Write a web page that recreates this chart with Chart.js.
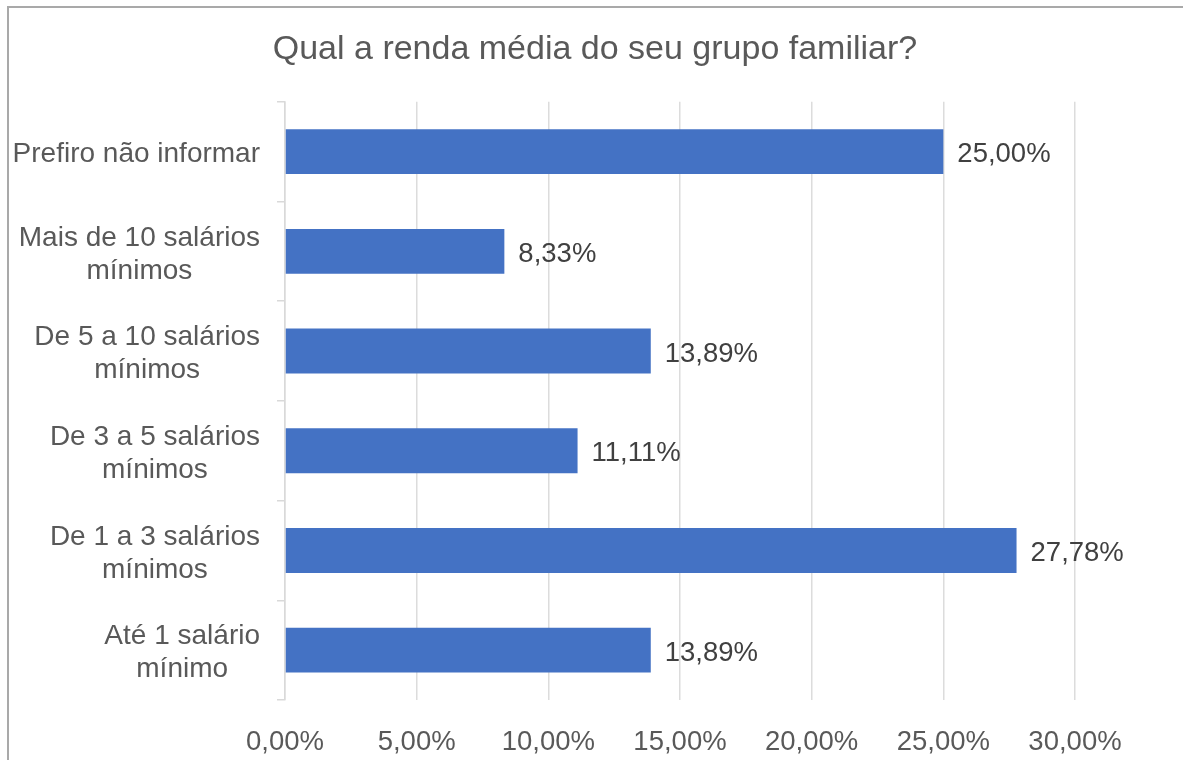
<!DOCTYPE html>
<html>
<head>
<meta charset="utf-8">
<script src="https://cdn.jsdelivr.net/npm/chart.js@4.4.1/dist/chart.umd.min.js"></script>
<style>
  html, body { margin: 0; padding: 0; background: #fff; }
  #wrap { position: relative; width: 1183px; height: 760px; }
  #frame {
    position: absolute; left: 7px; top: 6px; right: 0; bottom: 0;
    border-left: 2px solid #a9a9a9; border-top: 2px solid #a9a9a9;
  }
  #chart { position: absolute; left: 0; top: 0; }
</style>
</head>
<body>
<div id="wrap">
  <div id="frame"></div>
  <canvas id="chart" width="1183" height="760"></canvas>
</div>
<script>
  // data
  const titleText = 'Qual a renda média do seu grupo familiar?';
  const categories = [
    ['Prefiro não informar'],
    ['Mais de 10 salários', 'mínimos'],
    ['De 5 a 10 salários', 'mínimos'],
    ['De 3 a 5 salários', 'mínimos'],
    ['De 1 a 3 salários', 'mínimos'],
    ['Até 1 salário', 'mínimo']
  ];
  const values = [25.00, 8.33, 13.89, 11.11, 27.78, 13.89];
  const xTickLabels = ['0,00%', '5,00%', '10,00%', '15,00%', '20,00%', '25,00%', '30,00%'];

  const FONT = '"Liberation Sans", Arial, sans-serif';

  function pct(v) {
    return v.toFixed(2).replace('.', ',') + '%';
  }

  // value labels at the end of each bar
  const barLabels = {
    id: 'barLabels',
    afterDatasetsDraw(chart) {
      const ctx = chart.ctx;
      const meta = chart.getDatasetMeta(0);
      ctx.save();
      ctx.font = '27.5px ' + FONT;
      ctx.fillStyle = '#404040';
      ctx.textAlign = 'left';
      ctx.textBaseline = 'middle';
      meta.data.forEach(function (bar, i) {
        ctx.fillText(pct(values[i]), bar.x + 14, bar.y + 3);
      });
      ctx.restore();
    }
  };

  // category labels: block right-aligned, lines centred inside the block
  const catLabels = {
    id: 'catLabels',
    afterDraw(chart) {
      const ctx = chart.ctx;
      const y = chart.scales.y;
      const right = chart.scales.x.left - 25;
      ctx.save();
      ctx.font = '28px ' + FONT;
      ctx.fillStyle = '#595959';
      ctx.textAlign = 'center';
      ctx.textBaseline = 'middle';
      categories.forEach(function (lines, i) {
        const cy = y.getPixelForValue(i) + 3;
        let w = 0;
        lines.forEach(function (l) { w = Math.max(w, ctx.measureText(l).width); });
        const cx = right - w / 2;
        lines.forEach(function (l, j) {
          ctx.fillText(l, cx, cy + (j - (lines.length - 1) / 2) * 33);
        });
      });
      ctx.restore();
    }
  };

  const ctx = document.getElementById('chart').getContext('2d');
  const chart = new Chart(ctx, {
    type: 'bar',
    data: {
      labels: categories,
      datasets: [{
        data: values,
        backgroundColor: '#4472C4',
        borderWidth: 0,
        barPercentage: 0.45,
        categoryPercentage: 1
      }]
    },
    options: {
      indexAxis: 'y',
      responsive: false,
      animation: false,
      layout: {
        padding: { left: 115, right: 108, top: 0, bottom: 3 }
      },
      plugins: {
        legend: { display: false },
        tooltip: { enabled: false },
        title: {
          display: true,
          text: titleText,
          color: '#595959',
          font: { family: FONT, size: 34, weight: 'normal', lineHeight: 1.2 },
          padding: { top: 29, bottom: 32 }
        }
      },
      scales: {
        x: {
          min: 0,
          max: 30,
          ticks: {
            stepSize: 5,
            color: '#595959',
            padding: 26,
            font: { family: FONT, size: 27.5 },
            callback: function (v, i) { return xTickLabels[i]; }
          },
          grid: {
            color: '#dcdcdc',
            lineWidth: 1.5,
            drawTicks: false
          },
          border: { display: false },
          afterFit: function (scale) { scale.height = 57; }
        },
        y: {
          ticks: { display: false },
          grid: {
            drawOnChartArea: false,
            drawTicks: true,
            tickLength: 8,
            color: '#d9d9d9',
            lineWidth: 1.5
          },
          border: { display: true, color: '#d9d9d9', width: 1.5 },
          afterFit: function (scale) { scale.width = 170; }
        }
      }
    },
    plugins: [barLabels, catLabels]
  });
</script>
</body>
</html>
